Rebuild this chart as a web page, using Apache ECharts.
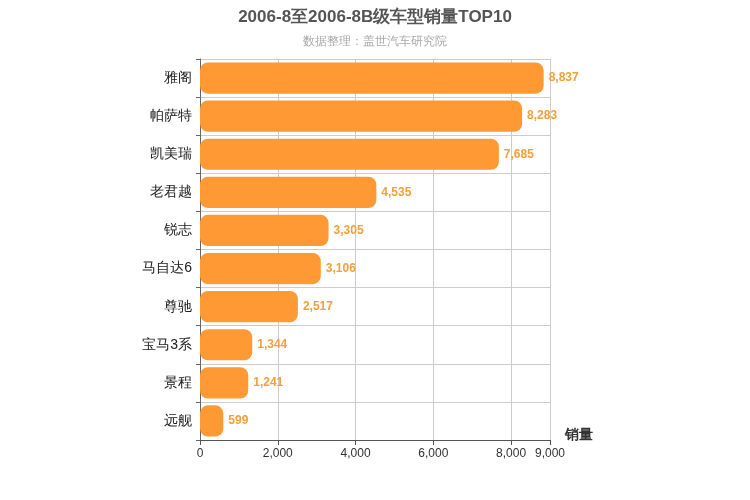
<!DOCTYPE html>
<html><head><meta charset="utf-8">
<script src="https://cdn.jsdelivr.net/npm/echarts@6/dist/echarts.min.js"></script>
<style>html,body{margin:0;padding:0}#c{width:750px;height:500px}</style>
</head><body><div id="c"></div>
<script>
const categories = ["雅阁","帕萨特","凯美瑞","老君越","锐志","马自达6","尊驰","宝马3系","景程","远舰"];
const values = [8837,8283,7685,4535,3305,3106,2517,1344,1241,599];
const chart = echarts.init(document.getElementById('c'));
chart.setOption({
  animation:false,
  title:{text:'2006-8至2006-8B级车型销量TOP10',subtext:'数据整理：盖世汽车研究院',left:'center',top:4,
    textStyle:{fontSize:17,fontWeight:'bold',color:'#555'},subtextStyle:{fontSize:12,color:'#aaa'},itemGap:10},
  grid:{left:200,right:200,top:59,bottom:60},
  xAxis:{type:'value',min:0,max:9000,interval:2000,name:'销量',nameGap:15,
    nameTextStyle:{fontSize:14,fontWeight:'bold',color:'#333',verticalAlign:'top',padding:[-12,0,0,0]},
    axisLine:{show:true,lineStyle:{color:'#555'}},axisTick:{show:true},
    axisLabel:{color:'#333',fontSize:12},
    splitLine:{show:true,lineStyle:{color:'#ccc'}}},
  yAxis:{type:'category',data:categories,inverse:true,
    axisLine:{show:true,lineStyle:{color:'#666'}},axisTick:{show:true,length:4},
    axisLabel:{color:'#222',fontSize:14},
    splitLine:{show:true,lineStyle:{color:'#ccc'}}},
  series:[{type:'bar',data:values,barWidth:'82%',
    itemStyle:{color:'#ff9933',borderRadius:8},
    label:{show:true,position:'right',color:'#f3a03c',fontSize:12,fontWeight:'bold',
      formatter:p=>p.value.toLocaleString('en-US')}}]
});
</script></body></html>
